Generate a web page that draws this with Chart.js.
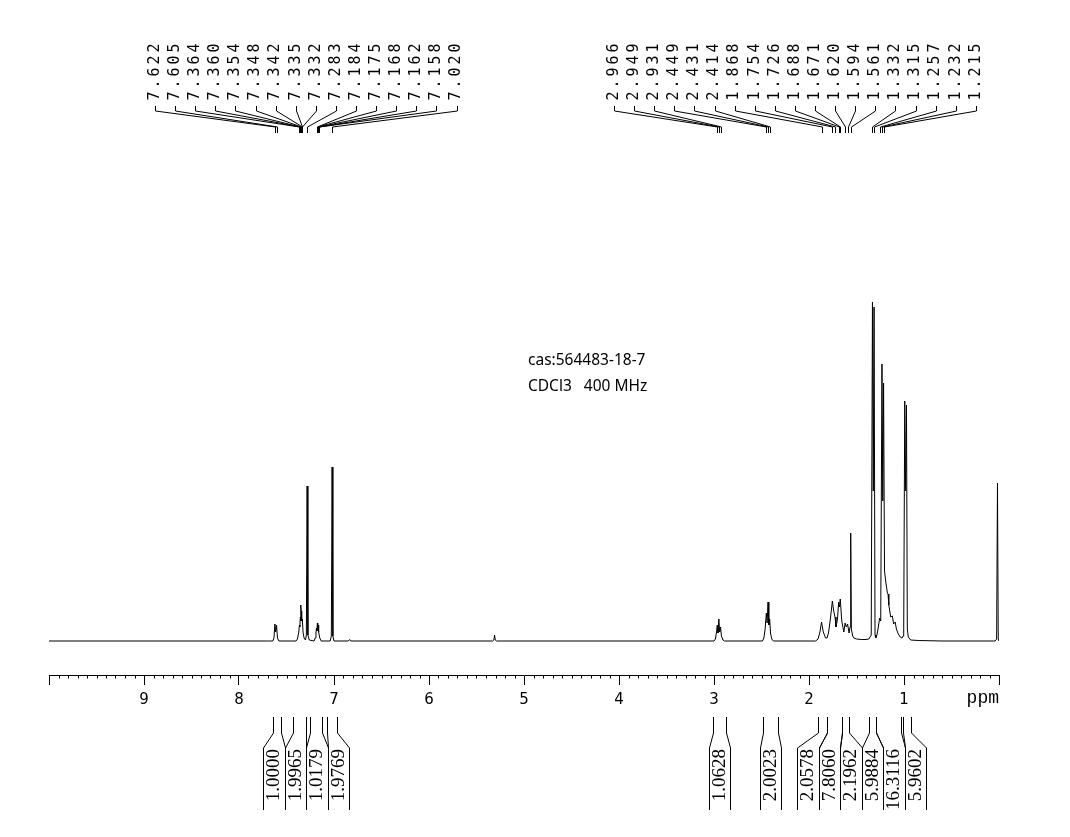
<!DOCTYPE html>
<html><head><meta charset="utf-8">
<script src="https://cdn.jsdelivr.net/npm/chart.js@4.4.1/dist/chart.umd.min.js"></script>
<style>html,body{margin:0;padding:0;background:#fff;} canvas{display:block;}</style>
</head><body>
<canvas id="c" width="1070" height="837" style="width:1070px;height:837px"></canvas>
<script>
// ---- Spectrum trace (chemical shift in ppm, relative intensity) ----
const shiftPpm = [
 10.0, 7.70,
 7.645, 7.632, 7.622, 7.614, 7.605, 7.595, 7.58,
 7.45, 7.40, 7.385, 7.372, 7.364, 7.360, 7.354, 7.351, 7.348, 7.345, 7.342, 7.338, 7.335, 7.332, 7.325, 7.315, 7.300,
 7.291, 7.283, 7.275, 7.260,
 7.21, 7.198, 7.190, 7.184, 7.179, 7.175, 7.171, 7.168, 7.165, 7.162, 7.158, 7.150, 7.135,
 7.04, 7.028, 7.020, 7.012, 7.00,
 6.85, 6.835, 6.825,
 5.33, 5.317, 5.310, 5.303, 5.29,
 3.00, 2.985, 2.972, 2.966, 2.958, 2.949, 2.940, 2.931, 2.922, 2.905, 2.89,
 2.49, 2.475, 2.462, 2.449, 2.441, 2.431, 2.423, 2.414, 2.405, 2.392, 2.375,
 1.93, 1.905, 1.885, 1.868, 1.850, 1.825, 1.81, 1.795, 1.775, 1.754, 1.740, 1.726, 1.716, 1.700, 1.688, 1.680, 1.671, 1.655, 1.633, 1.620, 1.607, 1.594, 1.578, 1.568, 1.561, 1.554, 1.540, 1.527,
 1.50, 1.45, 1.40, 1.37, 1.345, 1.332, 1.3235, 1.315, 1.305, 1.297,
 1.285, 1.270, 1.257, 1.245, 1.232, 1.2235, 1.215, 1.205, 1.190, 1.175, 1.168, 1.160, 1.150, 1.140, 1.122, 1.110, 1.093, 1.080, 1.060, 1.040, 1.020, 1.010, 1.003, 0.992, 0.983, 0.974, 0.965, 0.955, 0.93, 0.85, 0.60,
 0.04, 0.025, 0.016, 0.008, 0.0
];
const intensity = [
 0, 0,
 0, 3, 17, 9, 16, 3, 0,
 0, 0, 2, 8, 16, 14, 24, 20, 36, 28, 30, 20, 22, 19, 8, 3, 1,
 6, 155, 6, 1,
 0, 3, 8, 13, 10, 18, 13, 16, 10, 11, 9, 3, 0,
 0, 5, 174, 5, 0,
 0, 1.5, 0,
 0, 1, 6, 1, 0,
 0, 2, 10, 16, 8, 22, 9, 14, 5, 1, 0,
 0, 3, 12, 28, 18, 39, 16, 22, 8, 2, 0,
 0, 2, 9, 19, 9, 3, 3, 8, 22, 40, 30, 24, 14, 22, 39, 34, 42, 20, 9, 18, 14, 17, 8, 14, 108, 12, 5, 3,
 2, 1.5, 1.5, 2, 6, 339, 150, 334, 6, 3,
 6, 14, 23, 20, 277, 140, 258, 70, 58, 48, 47, 36, 30, 24, 25, 17, 19, 12, 7, 4, 3, 5, 12, 240, 150, 236, 12, 4, 1, 0.5, 0,
 0, 2, 158, 2, 0
];

// ---- Peak-pick labels (ppm) ----
const peakLabels = [7.622, 7.605, 7.364, 7.360, 7.354, 7.348, 7.342, 7.335, 7.332, 7.283, 7.184, 7.175, 7.168, 7.162, 7.158, 7.020,
  2.966, 2.949, 2.931, 2.449, 2.431, 2.414, 1.868, 1.754, 1.726, 1.688, 1.671, 1.620, 1.594, 1.561, 1.332, 1.315, 1.257, 1.232, 1.215];

// ---- Integrals: ranges (ppm) and values ----
const integralFrom = [7.64, 7.43, 7.25, 7.07, 3.01, 2.48, 1.91, 1.81, 1.65, 1.37, 1.30, 1.01];
const integralTo   = [7.56, 7.30, 7.13, 6.97, 2.87, 2.33, 1.81, 1.65, 1.58, 1.30, 1.03, 0.93];
const integralValues = ['1.0000', '1.9965', '1.0179', '1.9769', '1.0628', '2.0023', '2.0578', '7.8060', '2.1962', '5.9884', '16.3116', '5.9602'];

// ---- Axis ----
const axisMin = 0, axisMax = 10, minorStep = 0.1;
const axisUnit = 'ppm';
const sampleInfo = ['cas:564483-18-7', 'CDCl3   400 MHz'];

const isInt = v => Math.abs(v - Math.round(v)) < 1e-6;

function drawVText(ctx, str, x, yBottom, pitch) {
  ctx.save();
  ctx.translate(x, yBottom);
  ctx.rotate(-Math.PI / 2);
  ctx.textAlign = 'center';
  ctx.textBaseline = 'middle';
  for (let i = 0; i < str.length; i++) ctx.fillText(str[i], pitch * (i + 0.5), 0);
  ctx.restore();
}

function layoutBoxes(centers, w) {
  let clusters = centers.map((c, i) => ({ idx: [i], sum: c, n: 1 }));
  let changed = true;
  while (changed) {
    changed = false;
    for (let i = 0; i < clusters.length - 1; i++) {
      const a = clusters[i], b = clusters[i + 1];
      const aR = a.sum / a.n + a.n * w / 2;
      const bL = b.sum / b.n - b.n * w / 2;
      if (aR > bL + 0.01) {
        clusters.splice(i, 2, { idx: a.idx.concat(b.idx), sum: a.sum + b.sum, n: a.n + b.n });
        changed = true; break;
      }
    }
  }
  const out = [];
  clusters.forEach(c => {
    const mid = c.sum / c.n;
    const start = mid - c.n * w / 2;
    c.idx.forEach((id, k) => { out[id] = start + (k + 0.5) * w; });
  });
  return out;
}

const annot = {
  id: 'nmrAnnot',
  afterDraw(chart) {
    const ctx = chart.ctx, xs = chart.scales.x;
    const axisY = chart.chartArea.bottom;
    ctx.save();
    ctx.strokeStyle = '#000'; ctx.fillStyle = '#000'; ctx.lineWidth = 1;

    // minor ticks
    ctx.beginPath();
    xs.ticks.forEach(t => {
      if (!isInt(t.value)) {
        const px = Math.round(xs.getPixelForValue(t.value)) + 0.5;
        ctx.moveTo(px, axisY); ctx.lineTo(px, axisY + 3.5);
      }
    });
    ctx.stroke();

    // unit label
    ctx.font = '18px "Liberation Mono"';
    ctx.textAlign = 'right'; ctx.textBaseline = 'alphabetic';
    ctx.fillText(axisUnit, xs.getPixelForValue(axisMin), axisY + 28);

    // sample info
    ctx.font = '15.5px "Noto Sans"';
    ctx.textAlign = 'left';
    ctx.fillText(sampleInfo[0], 528, 365);
    ctx.fillText(sampleInfo[1], 528, 391);

    // peak labels
    const pitch = 20.1, groupStart = [155, 614];
    const counters = [0, 0];
    ctx.font = '15px "DejaVu Sans Mono"';
    ctx.beginPath();
    peakLabels.forEach(p => {
      const g = p > 5 ? 0 : 1;
      const lx = groupStart[g] + pitch * counters[g]++;
      const px = Math.round(xs.getPixelForValue(p)) + 0.5;
      const lxa = Math.round(lx) + 0.5;
      drawVText(ctx, p.toFixed(3), lx, 102, 12);
      ctx.moveTo(lxa, 106); ctx.lineTo(lxa, 111); ctx.lineTo(px, 127); ctx.lineTo(px, 133);
    });
    ctx.stroke();

    // integrals
    const w = 21.5;
    const centers = integralFrom.map((f, i) => (xs.getPixelForValue(f) + xs.getPixelForValue(integralTo[i])) / 2);
    const boxC = layoutBoxes(centers, w);
    ctx.beginPath();
    integralFrom.forEach((f, i) => {
      const a = Math.round(xs.getPixelForValue(f)) + 0.5;
      const b = Math.round(xs.getPixelForValue(integralTo[i])) + 0.5;
      const bl = Math.round(boxC[i] - w / 2) + 0.5;
      const br = Math.round(boxC[i] + w / 2) + 0.5;
      ctx.moveTo(a, 717); ctx.lineTo(a, 733); ctx.lineTo(bl, 748); ctx.lineTo(bl, 810);
      ctx.moveTo(b, 717); ctx.lineTo(b, 733); ctx.lineTo(br, 748); ctx.lineTo(br, 810);
    });
    ctx.stroke();
    ctx.font = '19px "Liberation Serif"';
    integralValues.forEach((v, i) => {
      ctx.save();
      ctx.translate(boxC[i] + 0.5, 749);
      ctx.rotate(-Math.PI / 2);
      ctx.textAlign = 'right'; ctx.textBaseline = 'middle';
      ctx.fillText(v, 0, 0);
      ctx.restore();
    });
    ctx.restore();
  }
};

new Chart(document.getElementById('c'), {
  type: 'line',
  data: {
    datasets: [{
      data: shiftPpm.map((p, i) => ({ x: p, y: intensity[i] })),
      borderColor: '#000',
      borderWidth: 1,
      pointRadius: 0,
      tension: 0,
      fill: false
    }]
  },
  options: {
    responsive: false,
    devicePixelRatio: 1,
    animation: false,
    events: [],
    layout: { padding: { left: 49, right: 71, top: 0, bottom: 0 } },
    plugins: { legend: { display: false }, tooltip: { enabled: false } },
    scales: {
      x: {
        type: 'linear', min: axisMin, max: axisMax, reverse: true,
        afterFit: s => { s.height = 837 - 675; },
        border: { display: true, color: '#000', width: 1 },
        grid: {
          drawOnChartArea: false, drawTicks: true, tickLength: 10,
          tickColor: c => (c.tick && isInt(c.tick.value)) ? '#000' : 'rgba(0,0,0,0)'
        },
        ticks: {
          stepSize: minorStep, maxTicksLimit: 200, autoSkip: false,
          minRotation: 0, maxRotation: 0, padding: 6,
          color: '#000', font: { family: 'DejaVu Sans', size: 15 },
          callback: v => (isInt(v) && v > axisMin && v < axisMax) ? String(Math.round(v)) : ''
        }
      },
      y: { display: false, min: -34, max: 641 }
    }
  },
  plugins: [annot]
});
</script>
</body></html>
